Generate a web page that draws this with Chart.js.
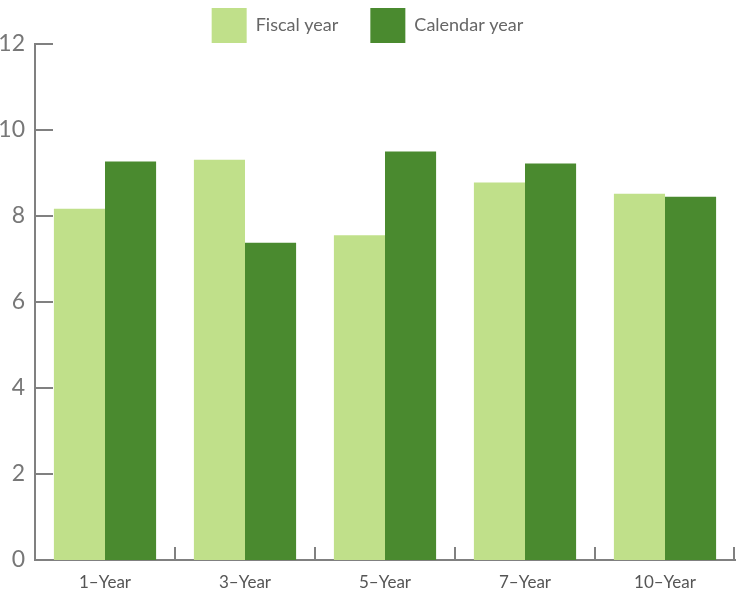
<!DOCTYPE html>
<html>
<head>
<meta charset="utf-8">
<script src="https://cdn.jsdelivr.net/npm/chart.js@4.4.0/dist/chart.umd.min.js"></script>
<style>
  html, body { margin: 0; padding: 0; background: #fff; }
  #wrap { width: 736px; height: 592px; }
</style>
</head>
<body>
<div id="wrap"><canvas id="chart" width="736" height="592"></canvas></div>
<script>
const categories = ['1\u2013Year', '3\u2013Year', '5\u2013Year', '7\u2013Year', '10\u2013Year'];
const fiscalYear = [8.17, 9.31, 7.55, 8.78, 8.52];
const calendarYear = [9.27, 7.38, 9.50, 9.22, 8.45];
const yTicks = [0, 2, 4, 6, 8, 10, 12];

const axisGray = '#808080';
const legendPad = 32;

// inward tick marks, like the original
const innerTicks = {
    id: 'innerTicks',
    afterInit(chart) {
        // squeeze the legend so the plot starts right under it
        const legend = chart.legend;
        if (legend) {
            const fit = legend.fit;
            legend.fit = function () {
                fit.call(this);
                this.height = 44 + (legendPad - 8);
            };
        }
    },
    afterDatasetsDraw(chart) {
        const { ctx, chartArea, scales } = chart;
        ctx.save();
        ctx.strokeStyle = axisGray;
        ctx.lineWidth = 2;
        ctx.beginPath();
        yTicks.forEach(v => {
            const y = Math.round(scales.y.getPixelForValue(v));
            ctx.moveTo(chartArea.left, y);
            ctx.lineTo(chartArea.left + 18, y);
        });
        for (let i = 1; i <= categories.length; i++) {
            const x = i < categories.length
                ? (scales.x.getPixelForValue(i - 1) + scales.x.getPixelForValue(i)) / 2
                : chartArea.right - 1;
            ctx.moveTo(Math.round(x), chartArea.bottom);
            ctx.lineTo(Math.round(x), chartArea.bottom - 13);
        }
        ctx.stroke();
        ctx.restore();
    }
};

new Chart(document.getElementById('chart'), {
    type: 'bar',
    data: {
        labels: categories,
        datasets: [
            { label: 'Fiscal year', data: fiscalYear, backgroundColor: '#c0e08a', borderWidth: 0 },
            { label: 'Calendar year', data: calendarYear, backgroundColor: '#4a8a2f', borderWidth: 0 }
        ]
    },
    options: {
        responsive: false,
        animation: false,
        layout: { padding: { top: 8 - legendPad, right: 1, left: 0, bottom: 0 } },
        datasets: { bar: { categoryPercentage: 0.73, barPercentage: 1.0 } },
        plugins: {
            legend: {
                position: 'top',
                labels: {
                    boxWidth: 35,
                    boxHeight: 35,
                    padding: legendPad,
                    color: '#666',
                    font: { family: 'Lato, sans-serif', size: 18 }
                }
            },
            tooltip: { enabled: false }
        },
        scales: {
            x: {
                grid: { display: false, drawTicks: false },
                border: { display: true, color: axisGray, width: 2 },
                ticks: {
                    color: '#555',
                    padding: 12,
                    font: { family: 'Lato, sans-serif', size: 17 }
                },
                afterFit(s) { s.height = 32; }
            },
            y: {
                min: 0,
                max: 12,
                afterBuildTicks(s) { s.ticks = yTicks.map(v => ({ value: v })); },
                grid: { display: false, drawTicks: false },
                border: { display: true, color: axisGray, width: 2 },
                ticks: {
                    color: '#777',
                    padding: 10,
                    font: { family: 'Lato, sans-serif', size: 23 }
                },
                afterFit(s) { s.width = 35; }
            }
        }
    },
    plugins: [innerTicks]
});
</script>
</body>
</html>
